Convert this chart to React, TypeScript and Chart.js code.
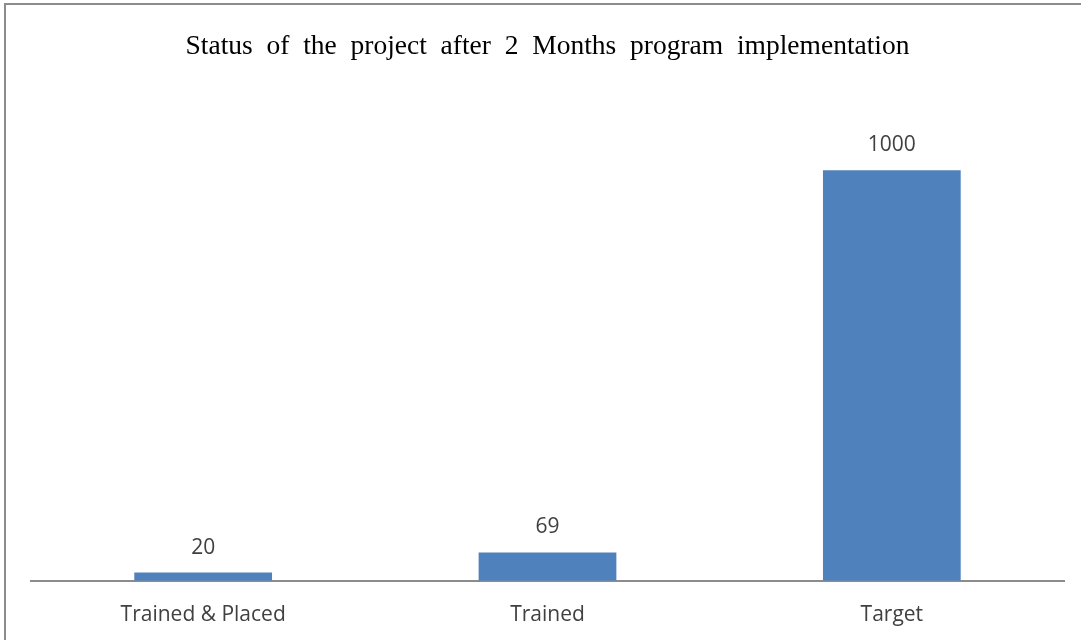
import React, { useEffect, useRef } from "react";
import { Chart, registerables } from "chart.js";

Chart.register(...registerables);

const categories = ["Trained & Placed", "Trained", "Target"];
const values = [20, 69, 1000];
const titleText = "Status  of  the  project  after  2  Months  program  implementation";

const barColor = "#4F81BD";

const frame = {
  id: "frame",
  beforeDraw(chart: any) {
    const ctx = chart.ctx;
    ctx.save();
    ctx.fillStyle = "#ffffff";
    ctx.fillRect(0, 0, chart.width, chart.height);
    ctx.strokeStyle = "#8c8c8c";
    ctx.lineWidth = 2;
    ctx.beginPath();
    ctx.moveTo(4, 4);
    ctx.lineTo(chart.width, 4);
    ctx.moveTo(5, 4);
    ctx.lineTo(5, chart.height);
    ctx.stroke();
    ctx.restore();
  },
};

const valueLabels = {
  id: "valueLabels",
  afterDatasetsDraw(chart: any) {
    const ctx = chart.ctx;
    const meta = chart.getDatasetMeta(0);
    ctx.save();
    ctx.font = '21px "Open Sans"';
    ctx.fillStyle = "#404040";
    ctx.textAlign = "center";
    ctx.textBaseline = "middle";
    meta.data.forEach((bar: any, i: number) => {
      ctx.fillText(String(chart.data.datasets[0].data[i]), bar.x, bar.y - 25);
    });
    ctx.restore();
  },
};

export default function App() {
  const ref = useRef<HTMLCanvasElement>(null);
  useEffect(() => {
    const chart = new Chart(ref.current!, {
      type: "bar",
      data: {
        labels: categories,
        datasets: [
          {
            data: values,
            backgroundColor: barColor,
            barPercentage: 0.8,
            categoryPercentage: 0.5,
          },
        ],
      },
      options: {
        responsive: false,
        animation: false,
        layout: { padding: { left: 31, right: 17, top: 0, bottom: -10 } },
        plugins: {
          legend: { display: false },
          tooltip: { enabled: false },
          title: {
            display: true,
            text: titleText,
            color: "#000000",
            font: { family: '"Liberation Serif", "Times New Roman", serif', size: 27.5, weight: "normal" },
            padding: { top: 30, bottom: 25 },
          },
        },
        scales: {
          x: {
            grid: { display: false, drawTicks: false },
            border: { display: true, color: "#8c8c8c", width: 2 },
            ticks: {
              color: "#404040",
              font: { family: '"Open Sans"', size: 21 },
              padding: 22,
            },
          },
          y: {
            display: false,
            min: 0,
            max: 1200,
          },
        },
      },
      plugins: [frame, valueLabels],
    });
    return () => chart.destroy();
  }, []);
  return (
    <div style={{ position: "absolute", left: 0, top: 0, width: 1081, height: 640 }}>
      <canvas ref={ref} width={1081} height={640} />
    </div>
  );
}
